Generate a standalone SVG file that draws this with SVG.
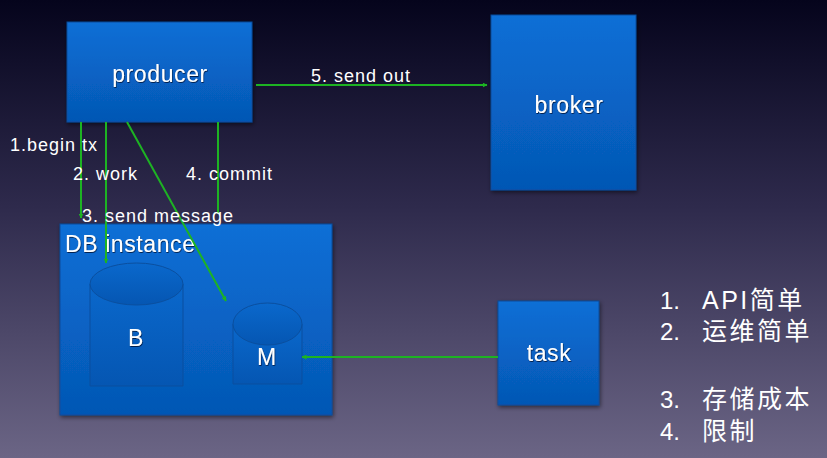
<svg xmlns="http://www.w3.org/2000/svg" width="827" height="458" viewBox="0 0 827 458">
<defs>
<linearGradient id="bg" x1="0" y1="0" x2="0" y2="1">
<stop offset="0" stop-color="#05041c"/>
<stop offset="0.45" stop-color="#2e2a4c"/>
<stop offset="1" stop-color="#6b6585"/>
</linearGradient>
<linearGradient id="box" x1="0" y1="0" x2="0" y2="1">
<stop offset="0" stop-color="#0a6fd6"/>
<stop offset="1" stop-color="#0557b4"/>
</linearGradient>
<linearGradient id="cyl" x1="0" y1="0" x2="0" y2="1">
<stop offset="0" stop-color="#0a68cc"/>
<stop offset="1" stop-color="#0556b2"/>
</linearGradient>
<filter id="sh" x="-10%" y="-10%" width="125%" height="125%">
<feDropShadow dx="1" dy="2" stdDeviation="2" flood-color="#000" flood-opacity="0.5"/>
</filter>
<filter id="tsh" x="-10%" y="-20%" width="125%" height="150%">
<feDropShadow dx="0.6" dy="1" stdDeviation="0.6" flood-color="#001030" flood-opacity="0.8"/>
</filter>
<marker id="arr" viewBox="0 0 10 10" refX="9" refY="5" markerWidth="5" markerHeight="5" orient="auto" markerUnits="userSpaceOnUse">
<path d="M0,0 L10,5 L0,10 z" fill="#1db323"/>
</marker>
</defs>
<style>
.box{fill:url(#box);stroke:#0a4a9a;stroke-width:1;filter:url(#sh)}
.cyl{fill:url(#cyl);stroke:#0a4f9f;stroke-width:1}
.lbl{font-family:"Liberation Sans","Noto Sans CJK SC",sans-serif;fill:#fff;filter:url(#tsh);font-size:23px;letter-spacing:0.6px}
.edge{stroke:#1db323;stroke-width:2;fill:none}
.et{font-family:"Liberation Sans",sans-serif;fill:#fff;font-size:18px;letter-spacing:1px}
.list{font-family:"Liberation Sans","Noto Sans CJK SC",sans-serif;fill:#fff;font-size:24px}
.cjk{font-family:"Liberation Sans","Noto Sans CJK SC",sans-serif;fill:#fff;font-size:25px;letter-spacing:2.5px}
</style>
<rect width="827" height="458" fill="url(#bg)"/>

<g id="producer">
<rect class="box" x="67" y="22" width="185" height="100"/>
<text class="lbl" x="160" y="82" text-anchor="middle">producer</text>
</g>
<g id="broker">
<rect class="box" x="491" y="15" width="145" height="175"/>
<text class="lbl" x="569" y="113" text-anchor="middle">broker</text>
</g>
<g id="db-instance">
<rect class="box" x="60" y="224" width="272" height="191"/>
<text class="lbl" x="65" y="252">DB instance</text>
</g>
<g id="B">
<path class="cyl" d="M90,284 L90,386 L183,386 L183,284"/>
<ellipse class="cyl" cx="136.5" cy="284" rx="46.5" ry="21"/>
<text class="lbl" x="136" y="346" text-anchor="middle">B</text>
</g>
<g id="M">
<path class="cyl" d="M233,324 L233,384 L302,384 L302,324"/>
<ellipse class="cyl" cx="267.5" cy="324" rx="34.5" ry="21"/>
<text class="lbl" x="267" y="365" text-anchor="middle">M</text>
</g>
<g id="task">
<rect class="box" x="498" y="301" width="101" height="104"/>
<text class="lbl" x="549" y="361" text-anchor="middle">task</text>
</g>

<g id="connectors">
<line class="edge" x1="81" y1="122" x2="81" y2="218" marker-end="url(#arr)"/>
<line class="edge" x1="106" y1="122" x2="106" y2="263" marker-end="url(#arr)"/>
<line class="edge" x1="127" y1="122" x2="226" y2="301" marker-end="url(#arr)"/>
<line class="edge" x1="218" y1="122" x2="218" y2="214"/>
<line class="edge" x1="256" y1="85" x2="487" y2="85" marker-end="url(#arr)"/>
<line class="edge" x1="498" y1="357" x2="302" y2="357" marker-end="url(#arr)"/>
<text class="et" x="311" y="82">5. send out</text>
<text class="et" x="10" y="151">1.begin tx</text>
<text class="et" x="73" y="180">2. work</text>
<text class="et" x="186" y="180">4. commit</text>
<text class="et" x="82" y="222">3. send message</text>
</g>

<g id="notes">
<text class="list" x="660" y="309">1.</text><text class="cjk" x="702" y="309">API简单</text>
<text class="list" x="660" y="340">2.</text><text class="cjk" x="702" y="340">运维简单</text>
<text class="list" x="660" y="408">3.</text><text class="cjk" x="702" y="408">存储成本</text>
<text class="list" x="660" y="440">4.</text><text class="cjk" x="702" y="440">限制</text>
</g>
</svg>
